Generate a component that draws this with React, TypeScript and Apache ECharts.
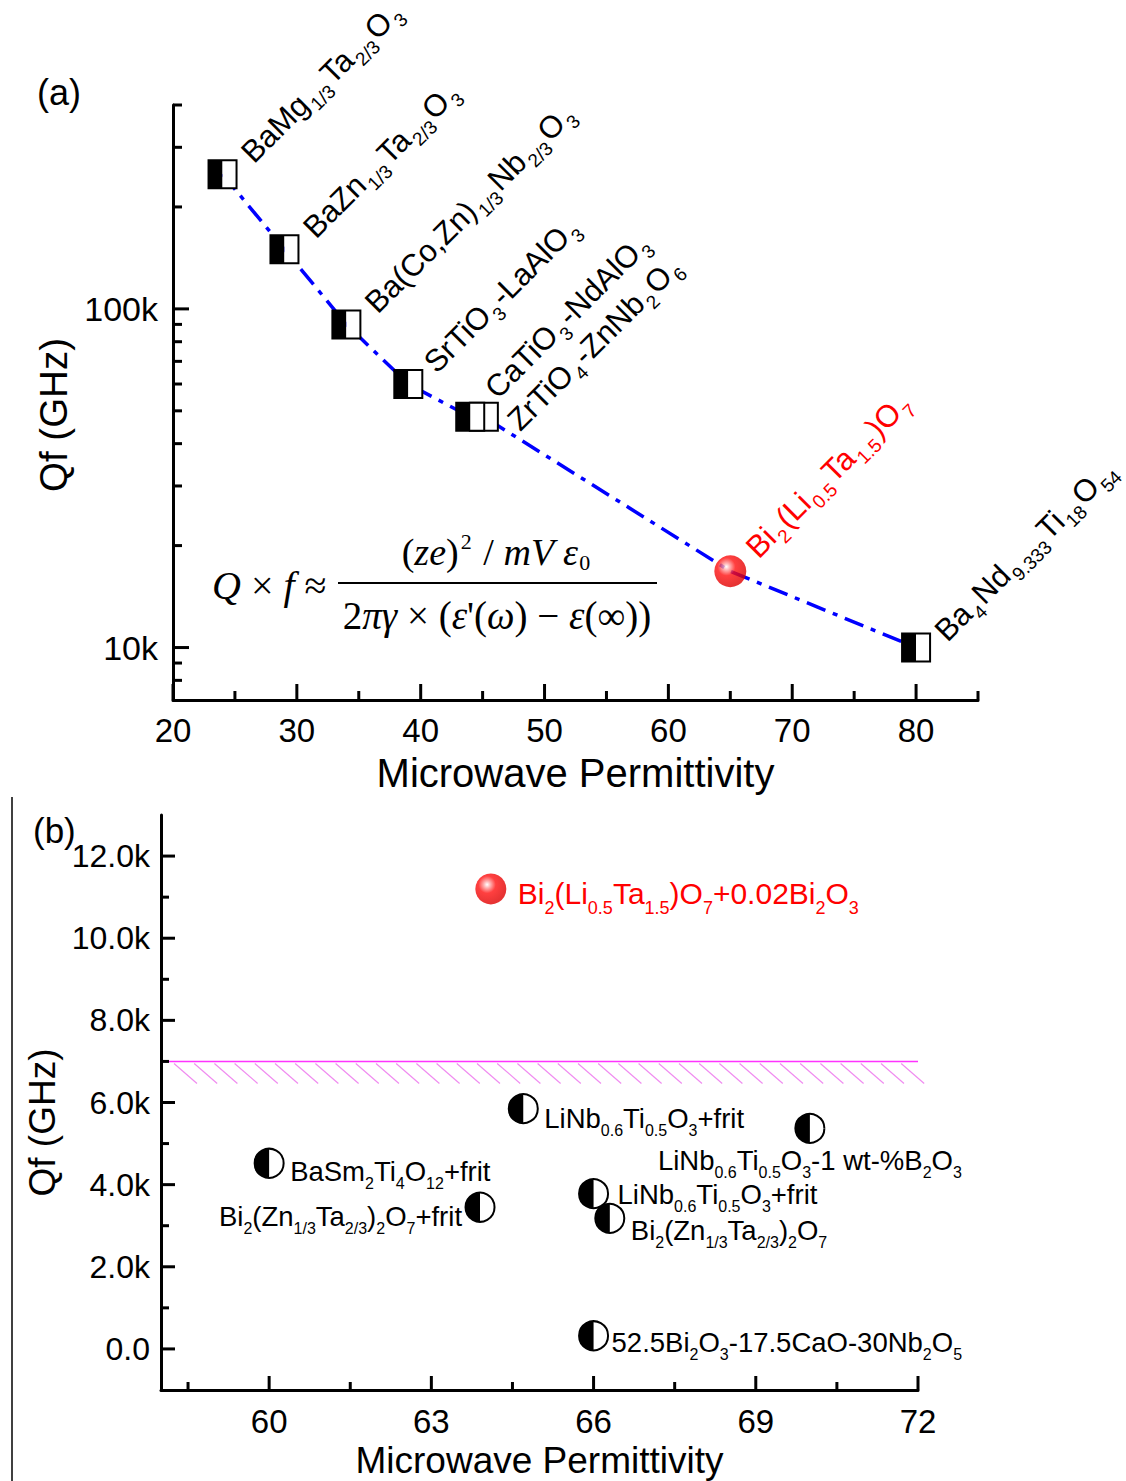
import React, { useEffect, useRef } from 'react';
import * as echarts from 'echarts';

// ---------------- Panel (a) data ----------------
const aMaterials = [
  'BaMg_{1/3}Ta_{2/3}O_{3}',
  'BaZn_{1/3}Ta_{2/3}O_{3}',
  'Ba(Co,Zn)_{1/3}Nb_{2/3}O_{3}',
  'SrTiO_{3}-LaAlO_{3}',
  'CaTiO_{3}-NdAlO_{3}',
  'ZrTiO_{4}-ZnNb_{2}O_{6}',
  'Bi_{2}(Li_{0.5}Ta_{1.5})O_{7}',
  'Ba_{4}Nd_{9.333}Ti_{18}O_{54}',
];
const aPermittivity = [24, 29, 34, 39, 44, 45.1, 65, 80];
const aQf = [250000, 150000, 90000, 60000, 48000, 48000, 16800, 10000];
const aIsThisWork = [false, false, false, false, false, false, true, false];

const aXLabels = [20, 30, 40, 50, 60, 70, 80];
const aXMinor = [25, 35, 45, 55, 65, 75, 85];
const aYMajor = [10000, 100000];
const aYMinor = [8000, 9000, 20000, 30000, 40000, 50000, 60000, 70000, 80000, 90000, 200000, 300000, 400000];

// ---------------- Panel (b) data ----------------
const bMaterials = [
  'Bi_{2}(Li_{0.5}Ta_{1.5})O_{7}+0.02Bi_{2}O_{3}',
  'LiNb_{0.6}Ti_{0.5}O_{3}+frit',
  'LiNb_{0.6}Ti_{0.5}O_{3}-1 wt-%B_{2}O_{3}',
  'BaSm_{2}Ti_{4}O_{12}+frit',
  'Bi_{2}(Zn_{1/3}Ta_{2/3})_{2}O_{7}+frit',
  'LiNb_{0.6}Ti_{0.5}O_{3}+frit',
  'Bi_{2}(Zn_{1/3}Ta_{2/3})_{2}O_{7}',
  '52.5Bi_{2}O_{3}-17.5CaO-30Nb_{2}O_{5}',
];
const bPermittivity = [64.1, 64.7, 70.0, 60.0, 63.9, 66.0, 66.3, 66.0];
const bQf = [11200, 5850, 5370, 4520, 3450, 3780, 3180, 320];
const bIsThisWork = [true, false, false, false, false, false, false, false];

const bXLabels = [60, 63, 66, 69, 72];
const bXMinor = [58.5, 61.5, 64.5, 67.5, 70.5];
const bYLabels = [0, 2000, 4000, 6000, 8000, 10000, 12000];
const bYMinor = [1000, 3000, 5000, 7000, 9000, 11000];

const bLimitQf = 7000;
const bLimitRange = [58, 72];

// ---------------- styling (not data) ----------------
const SANS = '"Liberation Sans", Arial, Helvetica, sans-serif';
const SERIF = '"Liberation Serif", "Times New Roman", serif';

// label placement per point (pixel offsets from the marker centre)
const aLabelOffsets: [number, number][] = [
  [24, -17], [24, -17], [24, -17], [21, -17], [20, -24], [29, 8], [21, -19], [24, -12],
];
const bLabelPlacement: { dx: number; dy: number; align: string }[] = [
  { dx: 27, dy: 5, align: 'left' },
  { dx: 21, dy: 10, align: 'left' },
  { dx: 0, dy: 32, align: 'center' },
  { dx: 21, dy: 8, align: 'left' },
  { dx: -18, dy: 9, align: 'right' },
  { dx: 24, dy: 1, align: 'left' },
  { dx: 21, dy: 12, align: 'left' },
  { dx: 18, dy: 7, align: 'left' },
];

function toRich(s: string): string {
  const out: string[] = [];
  const re = /_\{([^}]*)\}/g;
  let last = 0;
  let m: RegExpExecArray | null;
  while ((m = re.exec(s))) {
    if (m.index > last) out.push(`{m|${s.slice(last, m.index)}}`);
    out.push(`{s|${m[1]}}`);
    last = re.lastIndex;
  }
  if (last < s.length) out.push(`{m|${s.slice(last)}}`);
  return out.join('');
}

function richStyles(color: string, main: number, sub: number, drop: number, gap: number) {
  return {
    m: { fontSize: main, fontFamily: SANS, fill: color, color },
    s: { fontSize: sub, fontFamily: SANS, fill: color, color, padding: [drop, gap, 0, gap] },
  };
}

function tickSeries(xi: number, yi: number, dir: 'x' | 'y', values: number[], cross: number, len: number, width: number) {
  return {
    type: 'custom',
    xAxisIndex: xi,
    yAxisIndex: yi,
    silent: true,
    clip: false,
    z: 6,
    data: values.map((v) => (dir === 'x' ? [v, cross] : [cross, v])),
    renderItem: (params: any, api: any) => {
      const p = api.coord([api.value(0), api.value(1)]);
      const shape =
        dir === 'x'
          ? { x1: p[0], y1: p[1], x2: p[0], y2: p[1] - len }
          : { x1: p[0], y1: p[1], x2: p[0] + len, y2: p[1] };
      return { type: 'line', shape, style: { stroke: '#000', lineWidth: width } };
    },
  };
}

const redBall = () =>
  new echarts.graphic.RadialGradient(0.38, 0.36, 0.62, [
    { offset: 0, color: '#ffffff' },
    { offset: 0.18, color: '#ff9a9a' },
    { offset: 0.45, color: '#ff1010' },
    { offset: 1, color: '#e00000' },
  ]);

function buildOption() {
  const aIdx = aPermittivity.map((_, i) => i);
  const aSquares = aIdx.filter((i) => !aIsThisWork[i]).reverse();
  const aBalls = aIdx.filter((i) => aIsThisWork[i]);
  const bIdx = bPermittivity.map((_, i) => i);
  const bCircles = bIdx.filter((i) => !bIsThisWork[i]);
  const bBalls = bIdx.filter((i) => bIsThisWork[i]);

  const series: any[] = [
    // panel (a) trend line
    {
      type: 'line',
      xAxisIndex: 0,
      yAxisIndex: 0,
      data: aIdx.map((i) => [aPermittivity[i], aQf[i]]),
      symbol: 'none',
      silent: true,
      z: 2,
      lineStyle: { color: '#0000ff', width: 3.5, type: [20, 8, 5, 8] },
    },
    // panel (a) half-filled squares
    {
      type: 'custom',
      xAxisIndex: 0,
      yAxisIndex: 0,
      z: 4,
      silent: true,
      data: aSquares.map((i) => [aPermittivity[i], aQf[i]]),
      renderItem: (params: any, api: any) => {
        const p = api.coord([api.value(0), api.value(1)]);
        const s = 28;
        return {
          type: 'group',
          children: [
            { type: 'rect', shape: { x: p[0] - s / 2, y: p[1] - s / 2, width: s / 2, height: s }, style: { fill: '#000' } },
            { type: 'rect', shape: { x: p[0], y: p[1] - s / 2, width: s / 2, height: s }, style: { fill: '#fff' } },
            { type: 'rect', shape: { x: p[0] - s / 2, y: p[1] - s / 2, width: s, height: s }, style: { fill: 'none', stroke: '#000', lineWidth: 2 } },
          ],
        };
      },
    },
    // panel (a) this work
    {
      type: 'scatter',
      xAxisIndex: 0,
      yAxisIndex: 0,
      z: 4,
      silent: true,
      symbol: 'circle',
      symbolSize: 32,
      data: aBalls.map((i) => [aPermittivity[i], aQf[i]]),
      itemStyle: { color: redBall() },
    },
    // panel (a) labels
    {
      type: 'custom',
      xAxisIndex: 0,
      yAxisIndex: 0,
      z: 5,
      silent: true,
      clip: false,
      data: aIdx.map((i) => [aPermittivity[i], aQf[i], i]),
      renderItem: (params: any, api: any) => {
        const i = api.value(2);
        const p = api.coord([api.value(0), api.value(1)]);
        const color = aIsThisWork[i] ? '#ff0000' : '#000000';
        const off = aLabelOffsets[i];
        return {
          type: 'text',
          x: p[0] + off[0],
          y: p[1] + off[1],
          rotation: Math.PI / 4,
          style: {
            text: toRich(aMaterials[i]),
            rich: richStyles(color, 31, 19, 24, 2),
            fill: color,
            align: 'left',
            verticalAlign: 'middle',
          },
        };
      },
    },
    tickSeries(0, 0, 'x', aXLabels, 7000, 16, 3),
    tickSeries(0, 0, 'x', aXMinor, 7000, 9, 3),
    tickSeries(0, 0, 'y', aYMajor, 20, 16, 3),
    tickSeries(0, 0, 'y', aYMinor, 20, 9, 3),

    // panel (b) limit line with hatch
    {
      type: 'custom',
      xAxisIndex: 1,
      yAxisIndex: 1,
      z: 2,
      silent: true,
      clip: false,
      data: [[bLimitRange[0], bLimitQf, bLimitRange[1]]],
      renderItem: (params: any, api: any) => {
        const p1 = api.coord([api.value(0), api.value(1)]);
        const p2 = api.coord([api.value(2), api.value(1)]);
        const children: any[] = [
          { type: 'line', shape: { x1: p1[0], y1: p1[1], x2: p2[0], y2: p2[1] }, style: { stroke: '#ff33ff', lineWidth: 1.5 } },
        ];
        for (let x = p1[0] + 13; x <= p2[0] + 2; x += 20.2) {
          children.push({
            type: 'line',
            shape: { x1: x, y1: p1[1] + 2, x2: x + 23, y2: p1[1] + 22 },
            style: { stroke: '#f08cf0', lineWidth: 1.2 },
          });
        }
        return { type: 'group', children };
      },
    },
    // panel (b) half-filled circles
    {
      type: 'custom',
      xAxisIndex: 1,
      yAxisIndex: 1,
      z: 4,
      silent: true,
      data: bCircles.map((i) => [bPermittivity[i], bQf[i]]),
      renderItem: (params: any, api: any) => {
        const p = api.coord([api.value(0), api.value(1)]);
        const r = 14.5;
        return {
          type: 'group',
          children: [
            { type: 'circle', shape: { cx: p[0], cy: p[1], r }, style: { fill: '#fff' } },
            { type: 'sector', shape: { cx: p[0], cy: p[1], r0: 0, r, startAngle: Math.PI / 2, endAngle: (Math.PI * 3) / 2, clockwise: true }, style: { fill: '#000' } },
            { type: 'circle', shape: { cx: p[0], cy: p[1], r }, style: { fill: 'none', stroke: '#000', lineWidth: 2 } },
          ],
        };
      },
    },
    // panel (b) this work
    {
      type: 'scatter',
      xAxisIndex: 1,
      yAxisIndex: 1,
      z: 4,
      silent: true,
      symbol: 'circle',
      symbolSize: 31,
      data: bBalls.map((i) => [bPermittivity[i], bQf[i]]),
      itemStyle: { color: redBall() },
    },
    // panel (b) labels
    {
      type: 'custom',
      xAxisIndex: 1,
      yAxisIndex: 1,
      z: 5,
      silent: true,
      clip: false,
      data: bIdx.map((i) => [bPermittivity[i], bQf[i], i]),
      renderItem: (params: any, api: any) => {
        const i = api.value(2);
        const p = api.coord([api.value(0), api.value(1)]);
        const color = bIsThisWork[i] ? '#ff0000' : '#000000';
        const pl = bLabelPlacement[i];
        const big = bIsThisWork[i];
        return {
          type: 'text',
          x: p[0] + pl.dx,
          y: p[1] + pl.dy,
          style: {
            text: toRich(bMaterials[i]),
            rich: richStyles(color, big ? 30 : 27.5, big ? 18 : 16, big ? 28 : 24, 0),
            fill: color,
            align: pl.align,
            verticalAlign: 'middle',
          },
        };
      },
    },
    tickSeries(1, 1, 'x', bXLabels, -1000, 14, 3),
    tickSeries(1, 1, 'x', bXMinor, -1000, 8, 3),
    tickSeries(1, 1, 'y', bYLabels, 58, 14, 3),
    tickSeries(1, 1, 'y', bYMinor, 58, 8, 3),
  ];

  const axisName = { fontSize: 38, color: '#000', fontFamily: SANS };
  const axisLine = { onZero: false, lineStyle: { color: '#000', width: 3 } };

  return {
    animation: false,
    backgroundColor: '#ffffff',
    grid: [
      { left: 173, top: 105, width: 805, height: 595 },
      { left: 161, top: 815, width: 757, height: 575 },
    ],
    xAxis: [
      {
        gridIndex: 0,
        type: 'value',
        min: 20,
        max: 85,
        splitLine: { show: false },
        axisTick: { show: false },
        axisLine,
        axisLabel: { customValues: aXLabels, color: '#000', fontSize: 33, fontFamily: SANS, margin: 14 },
        name: 'Microwave Permittivity',
        nameLocation: 'middle',
        nameGap: 53,
        nameTextStyle: { ...axisName, fontSize: 40 },
      },
      {
        gridIndex: 1,
        type: 'value',
        min: 58,
        max: 72,
        splitLine: { show: false },
        axisTick: { show: false },
        axisLine,
        axisLabel: { customValues: bXLabels, color: '#000', fontSize: 33, fontFamily: SANS, margin: 15 },
        name: 'Microwave Permittivity',
        nameLocation: 'middle',
        nameGap: 52,
        nameTextStyle: { ...axisName, fontSize: 37 },
      },
    ],
    yAxis: [
      {
        gridIndex: 0,
        type: 'log',
        logBase: 10,
        min: 7000,
        max: 400000,
        splitLine: { show: false },
        minorTick: { show: false },
        axisTick: { show: false },
        axisLine,
        axisLabel: {
          color: '#000',
          fontSize: 34,
          fontFamily: SANS,
          margin: 15,
          formatter: (v: number) => {
            const l = Math.log10(v);
            return Math.abs(l - Math.round(l)) < 1e-6 ? `${Math.round(v / 1000)}k` : '';
          },
        },
        name: 'Qf (GHz)',
        nameLocation: 'middle',
        nameGap: 100,
        nameTextStyle: { ...axisName, fontSize: 38.5, padding: [0, 25, 0, 0] },
      },
      {
        gridIndex: 1,
        type: 'value',
        min: -1000,
        max: 13000,
        splitLine: { show: false },
        axisTick: { show: false },
        axisLine,
        axisLabel: {
          customValues: bYLabels,
          color: '#000',
          fontSize: 32,
          fontFamily: SANS,
          margin: 11,
          formatter: (v: number) => (v === 0 ? '0.0' : `${(v / 1000).toFixed(1)}k`),
        },
        name: 'Qf (GHz)',
        nameLocation: 'middle',
        nameGap: 97,
        nameTextStyle: { ...axisName, fontSize: 37, padding: [0, 40, 0, 0] },
      },
    ],
    graphic: [
      { type: 'text', left: 37, top: 74, style: { text: '(a)', font: `36px ${SANS}`, fill: '#000' } },
      { type: 'text', left: 33, top: 813, style: { text: '(b)', font: `35px ${SANS}`, fill: '#000' } },
      { type: 'line', shape: { x1: 12, y1: 797, x2: 12, y2: 1481 }, style: { stroke: '#000', lineWidth: 1.5 } },
      // formula
      {
        type: 'text',
        x: 212,
        y: 585,
        style: {
          text: '{i|Q}{n| × }{i|f}{n| ≈}',
          rich: {
            i: { fontFamily: SERIF, fontStyle: 'italic', fontSize: 40, fill: '#000' },
            n: { fontFamily: SERIF, fontSize: 40, fill: '#000' },
          },
          align: 'left',
          verticalAlign: 'middle',
        },
      },
      { type: 'line', shape: { x1: 338, y1: 583, x2: 657, y2: 583 }, style: { stroke: '#000', lineWidth: 2 } },
      {
        type: 'text',
        x: 496,
        y: 552,
        style: {
          text: '{n|(}{i|ze}{n|)}{sup|2}{n| / }{i|mV ε}{sb|0}',
          rich: {
            i: { fontFamily: SERIF, fontStyle: 'italic', fontSize: 38, fill: '#000' },
            n: { fontFamily: SERIF, fontSize: 38, fill: '#000' },
            sup: { fontFamily: SERIF, fontSize: 22, fill: '#000', padding: [0, 2, 22, 2] },
            sb: { fontFamily: SERIF, fontSize: 22, fill: '#000', padding: [20, 0, 0, 1] },
          },
          align: 'center',
          verticalAlign: 'middle',
        },
      },
      {
        type: 'text',
        x: 497,
        y: 615,
        style: {
          text: "{n|2}{i|πγ}{n| × (}{i|ε}{n|'(}{i|ω}{n|) − }{i|ε}{n|(∞))}",
          rich: {
            i: { fontFamily: SERIF, fontStyle: 'italic', fontSize: 39, fill: '#000' },
            n: { fontFamily: SERIF, fontSize: 39, fill: '#000' },
          },
          align: 'center',
          verticalAlign: 'middle',
        },
      },
    ],
    series,
  };
}

export default function App() {
  const ref = useRef<HTMLDivElement>(null);
  useEffect(() => {
    const chart = echarts.init(ref.current!, null, { renderer: 'svg' });
    chart.setOption(buildOption() as any);
    return () => chart.dispose();
  }, []);
  return (
    <div
      ref={ref}
      style={{ position: 'absolute', left: 0, top: 0, width: 1126, height: 1481, background: '#fff' }}
    />
  );
}
